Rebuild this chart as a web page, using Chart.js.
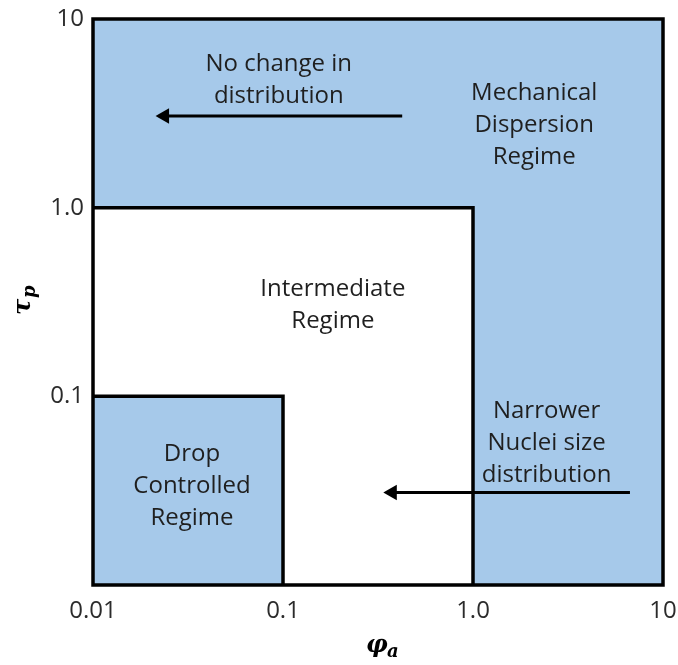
<!DOCTYPE html>
<html>
<head>
<meta charset="utf-8">
<script src="https://cdn.jsdelivr.net/npm/chart.js@4"></script>
<style>
  html, body { margin: 0; padding: 0; background: #fff; }
</style>
</head>
<body>
<canvas id="myChart" width="678" height="665"></canvas>
<script>
var xTicks = [0.01, 0.1, 1, 10];
var xTickLabels = ['0.01', '0.1', '1.0', '10'];
var yTicks = [0.01, 0.1, 1, 10];
var yTickLabels = ['', '0.1', '1.0', '10'];

// regime boundaries (phi_a, tau_p)
var outerBox = [[0.01, 0.01], [0.01, 10], [10, 10], [10, 0.01], [0.01, 0.01]];
var mechanicalTop = [[0.01, 10], [10, 10]];
var intermediateEdge = [[0.01, 1], [1, 1], [1, 0.01]];
var dropEdge = [[0.01, 0.1], [0.1, 0.1], [0.1, 0.01]];

// arrows: tail first, head last
var arrowTop = [[0.424, 3.06], [0.0238, 3.06]];
var arrowBottom = [[6.7, 0.0309], [0.376, 0.0309]];

var regionLabels = [
  ['No change in', 'distribution'],
  ['Mechanical', 'Dispersion', 'Regime'],
  ['Intermediate', 'Regime'],
  ['Narrower', 'Nuclei size', 'distribution'],
  ['Drop', 'Controlled', 'Regime']
];
var labelX = [0.095, 2.1, 0.183, 2.44, 0.0332];
var labelY = [4.8, 2.77, 0.309, 0.0575, 0.034];

var blue = 'rgb(166, 201, 234)';

function toXY(pts) {
  return pts.map(function (p) { return { x: p[0], y: p[1] }; });
}

var textPlugin = {
  id: 'regimeText',
  afterDatasetsDraw: function (chart) {
    var ctx = chart.ctx;
    var xs = chart.scales.x, ys = chart.scales.y;
    ctx.save();
    ctx.font = '24px "Open Sans"';
    ctx.fillStyle = '#1f1f1f';
    ctx.textAlign = 'center';
    ctx.textBaseline = 'middle';
    regionLabels.forEach(function (lines, i) {
      var cx = xs.getPixelForValue(labelX[i]);
      var cy = ys.getPixelForValue(labelY[i]) + 1;
      lines.forEach(function (t, j) {
        ctx.fillText(t, cx, cy + (j - (lines.length - 1) / 2) * 32);
      });
    });
    ctx.restore();
  },
  afterDraw: function (chart) {
    var ctx = chart.ctx;
    ctx.save();
    ctx.fillStyle = '#000';
    ctx.textAlign = 'left';
    ctx.textBaseline = 'alphabetic';
    // x title: phi_a
    ctx.font = 'bold italic 24px "DejaVu Serif"';
    ctx.fillText('φ', 366, 652);
    ctx.font = 'bold italic 18px "DejaVu Serif"';
    ctx.fillText('a', 387, 657);
    // y title: tau_p
    ctx.translate(30, 299);
    ctx.rotate(-Math.PI / 2);
    ctx.font = 'bold italic 24px "DejaVu Serif"';
    ctx.fillText('τ', -16, 0);
    ctx.font = 'bold italic 18px "DejaVu Serif"';
    ctx.fillText('p', 1, 5);
    ctx.restore();
  }
};

var lineDefaults = {
  showLine: true,
  pointRadius: 0,
  borderColor: '#000',
  borderWidth: 3.5,
  borderJoinStyle: 'miter',
  fill: false
};

var ctx = document.getElementById('myChart').getContext('2d');
var myChart = new Chart(ctx, {
  type: 'scatter',
  data: {
    datasets: [
      Object.assign({}, lineDefaults, { data: toXY(outerBox), clip: 6, borderCapStyle: 'square' }),
      Object.assign({}, lineDefaults, {
        data: toXY(arrowTop), borderWidth: 3,
        pointRadius: [0, 9], pointStyle: 'triangle', pointRotation: -90,
        pointBackgroundColor: '#000', pointBorderWidth: 0
      }),
      Object.assign({}, lineDefaults, {
        data: toXY(arrowBottom), borderWidth: 3,
        pointRadius: [0, 9], pointStyle: 'triangle', pointRotation: -90,
        pointBackgroundColor: '#000', pointBorderWidth: 0
      }),
      Object.assign({}, lineDefaults, { data: toXY(dropEdge), fill: 'start', backgroundColor: blue }),
      Object.assign({}, lineDefaults, { data: toXY(intermediateEdge), fill: 'start', backgroundColor: '#fff' }),
      Object.assign({}, lineDefaults, { data: toXY(mechanicalTop), borderWidth: 0, fill: 'start', backgroundColor: blue })
    ]
  },
  options: {
    responsive: false,
    animation: false,
    events: [],
    layout: { padding: { top: 19, right: 15, left: 0, bottom: 0 } },
    plugins: {
      legend: { display: false },
      tooltip: { enabled: false }
    },
    scales: {
      x: {
        type: 'logarithmic',
        min: 0.01,
        max: 10,
        grid: { display: false, drawTicks: false },
        border: { display: false },
        afterBuildTicks: function (axis) {
          axis.ticks = xTicks.map(function (v) { return { value: v }; });
        },
        afterFit: function (axis) {
          axis.height = 80;
          axis.paddingLeft = 0;
          axis.paddingRight = 0;
        },
        ticks: {
          autoSkip: false,
          maxRotation: 0,
          padding: 12,
          color: '#2b2b2b',
          font: { family: '"Open Sans"', size: 24 },
          callback: function (v, i) { return xTickLabels[i]; }
        }
      },
      y: {
        type: 'logarithmic',
        min: 0.01,
        max: 10,
        grid: { display: false, drawTicks: false },
        border: { display: false },
        afterBuildTicks: function (axis) {
          axis.ticks = yTicks.map(function (v) { return { value: v }; });
        },
        afterFit: function (axis) {
          axis.width = 93;
          axis.paddingTop = 0;
          axis.paddingBottom = 0;
        },
        ticks: {
          autoSkip: false,
          padding: 9,
          color: '#2b2b2b',
          font: { family: '"Open Sans"', size: 24 },
          callback: function (v, i) { return yTickLabels[i]; }
        }
      }
    }
  },
  plugins: [textPlugin]
});
</script>
</body>
</html>
